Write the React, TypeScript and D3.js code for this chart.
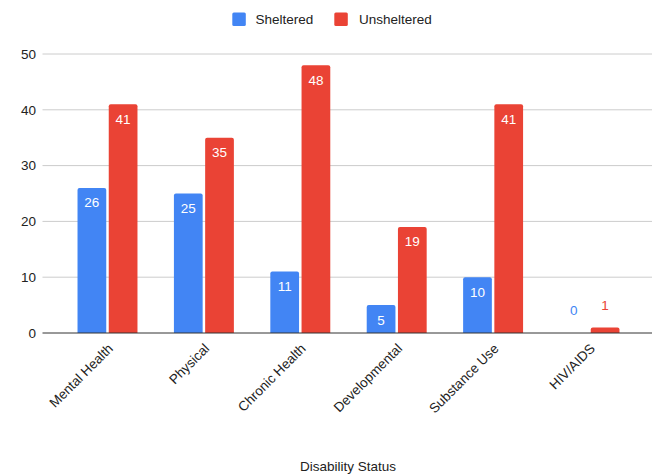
import React from "react";
import * as d3 from "d3";

const categories = ["Mental Health", "Physical", "Chronic Health", "Developmental", "Substance Use", "HIV/AIDS"];
const seriesNames = ["Sheltered", "Unsheltered"];
const sheltered = [26, 25, 11, 5, 10, 0];
const unsheltered = [41, 35, 48, 19, 41, 1];
const yTicks = [0, 10, 20, 30, 40, 50];
const colors = ["#4285F4", "#EA4335"];
const xTitle = "Disability Status";

const W = 657;
const H = 474;
const FONT = "Arial, 'Liberation Sans', Helvetica, sans-serif";

function topRoundedRect(x: number, y: number, w: number, h: number, r: number) {
  if (h <= 0) return "";
  const rr = Math.min(r, h, w / 2);
  return `M${x},${y + h} L${x},${y + rr} Q${x},${y} ${x + rr},${y} L${x + w - rr},${y} Q${x + w},${y} ${x + w},${y + rr} L${x + w},${y + h} Z`;
}

export default function App() {
  const values = [sheltered, unsheltered];
  const y = d3.scaleLinear().domain([0, 50]).range([333, 54]);
  const x0 = d3.scaleBand<string>().domain(categories).range([59.3, 637.7]).paddingInner(0.378).paddingOuter(0.189);
  const x1 = d3.scaleBand<string>().domain(seriesNames).range([0, x0.bandwidth()]).paddingInner(0.08).paddingOuter(0);
  const gridX0 = 42.5;
  const gridX1 = 652;

  return (
    <svg width={W} height={H} style={{ position: "absolute", left: 0, top: 0, background: "#fff" }} fontFamily={FONT}>
      <rect x={0} y={0} width={W} height={H} fill="#fff" />
      {/* legend */}
      <g>
        <rect x={232.3} y={12.5} width={13.5} height={13.5} rx={1.5} fill={colors[0]} />
        <text x={255.5} y={24} fontSize={13.5} fill="#222">{seriesNames[0]}</text>
        <rect x={334.3} y={12.5} width={13.5} height={13.5} rx={1.5} fill={colors[1]} />
        <text x={359} y={24} fontSize={13.5} fill="#222">{seriesNames[1]}</text>
      </g>
      {/* grid */}
      {yTicks.map((t) => (
        <g key={t}>
          {t !== 0 && <line x1={gridX0} x2={gridX1} y1={y(t)} y2={y(t)} stroke="#cccccc" strokeWidth={1} />}
          <text x={36} y={y(t)} dy="0.36em" textAnchor="end" fontSize={13.5} fill="#222">{t}</text>
        </g>
      ))}
      {/* bars */}
      {categories.map((c, i) => (
        <g key={c} transform={`translate(${x0(c)},0)`}>
          {seriesNames.map((s, j) => {
            const v = values[j][i];
            const bx = x1(s) as number;
            const bw = x1.bandwidth();
            const top = y(v);
            const h = y(0) - top;
            const cx = bx + bw / 2;
            const inside = h > 24;
            return (
              <g key={s}>
                {h > 0 && <path d={topRoundedRect(bx, top, bw, h, 2)} fill={colors[j]} />}
                <text
                  x={cx}
                  y={inside ? top + 19.5 : top - 17.8}
                  textAnchor="middle"
                  fontSize={13.5}
                  fill={inside ? "#ffffff" : colors[j]}
                >
                  {v}
                </text>
              </g>
            );
          })}
        </g>
      ))}
      {/* baseline */}
      <line x1={gridX0} x2={gridX1} y1={y(0)} y2={y(0)} stroke="#333333" strokeWidth={1} />
      {/* x labels */}
      {categories.map((c) => {
        const cx = (x0(c) as number) + x0.bandwidth() / 2 + 3;
        return (
          <text
            key={c}
            transform={`translate(${cx},346) rotate(-45)`}
            textAnchor="end"
            dy="0.35em"
            fontSize={13.5}
            fill="#222"
          >
            {c}
          </text>
        );
      })}
      <text x={348} y={471} textAnchor="middle" fontSize={13.5} fill="#222">{xTitle}</text>
    </svg>
  );
}
